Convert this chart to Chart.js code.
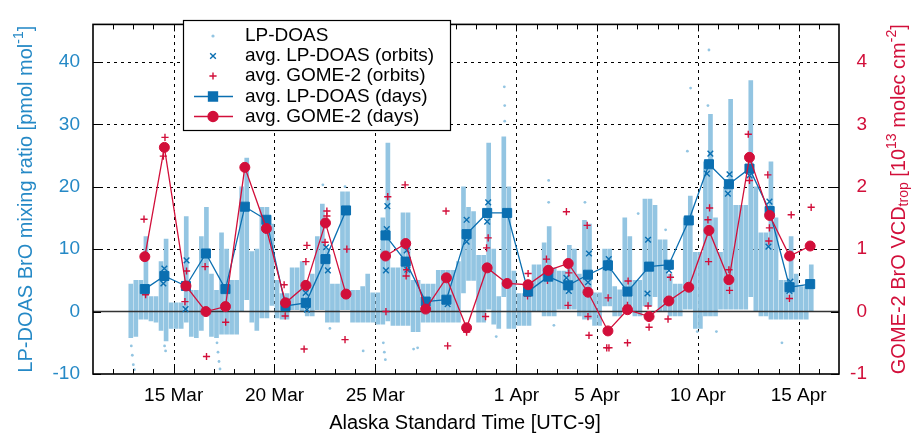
<!DOCTYPE html>
<html>
<head>
<meta charset="utf-8">
<script src="https://cdn.jsdelivr.net/npm/chart.js@4.4.1/dist/chart.umd.min.js"></script>
<style>
  html, body { margin: 0; padding: 0; background: #fff; }
  canvas { display: block; }
</style>
</head>
<body>
<canvas id="chart" width="912" height="435"></canvas>
<script>
const FONT = "'Liberation Sans', Arial, sans-serif";
const BLUE_TEXT = '#2589c6';
const BLUE = '#0b6fb1';
const CLOUD = '#93c5e2';
const RED = '#d20f3a';

// day numbers counted from 0 Mar, so 1 Apr = 32
const majorDays = [15, 20, 25, 32, 36, 41, 46];
const leftTicks = [-10, 0, 10, 20, 30, 40];
const rightTicks = [-1, 0, 1, 2, 3, 4];

// daily averages (null = no data that day)
const dayX = [13.57, 14.54, 15.61, 16.6, 17.57, 18.53, 19.6, 20.55, 21.56, 22.53, 23.55, 24.55,
    25.51, 26.51, 27.5, 28.53, 29.53, 30.55, 31.54, 32.58, 33.58, 34.57, 35.55, 36.54, 37.51,
    38.58, 39.56, 40.55, 41.55, 42.54, 43.56, 44.56, 45.55, 46.57];
const lpDays = [3.6, 5.7, 4.1, 9.3, 3.6, 16.8, 14.7, 0.9, 1.4, 8.4, 16.2, null,
    12.2, 8.0, 1.6, 1.9, 12.4, 15.8, 15.8, 3.2, 5.6, 4.2, 5.9, 7.4, 3.2,
    7.2, 7.5, 14.6, 23.6, 20.4, 22.9, 16.1, 3.9, 4.4];
const gomeDays = [0.88, 2.63, 0.41, 0.0, 0.08, 2.31, 1.33, 0.14, 0.42, 1.42, 0.28, null,
    0.89, 1.09, 0.04, 0.54, -0.26, 0.70, 0.45, 0.43, 0.66, 0.77, 0.31, -0.31, 0.03,
    -0.08, 0.17, 0.39, 1.30, 0.51, 2.47, 1.54, 0.89, 1.05];

// orbit averages
const lpOrbitX = [14.54, 14.49, 15.64, 15.59, 21.55, 21.61, 22.56, 22.65, 25.6, 25.57, 25.53,
    26.56, 26.59, 28.59, 29.53, 29.53, 30.6, 30.55, 34.48, 34.6, 35.6, 35.55, 36.58, 36.55,
    38.53, 38.5, 39.57, 41.62, 41.45, 42.57, 42.49, 43.56, 44.55, 44.5, 45.59, 45.54];
const lpOrbitV = [6.9, 4.5, 8.2, 0.4, 3.0, 0.3, 10.3, 6.6, 16.9, 13.2, 6.6,
    9.8, 6.7, 1.2, 14.7, 11.2, 17.5, 14.4, 5.4, 3.3, 9.3, 4.7, 8.4, 7.0,
    11.5, 2.9, 6.6, 25.3, 22.1, 22.0, 18.9, 21.8, 17.6, 10.4, 4.8, 3.3];

const gomeOrbitX = [13.53, 13.61, 14.57, 14.49, 15.64, 15.56, 16.56, 16.63, 17.58,
    20.48, 20.53, 21.61, 21.56, 21.47, 22.6, 22.6, 22.51, 23.59, 23.5, 25.62, 25.53,
    26.48, 26.56, 26.53, 28.51, 28.59, 29.53, 30.6, 30.52, 30.47, 32.58, 32.55, 33.49, 33.54,
    34.48, 34.6, 34.56, 35.51, 35.55, 35.6, 36.55, 36.48, 36.59, 37.54, 37.51, 37.51,
    38.53, 38.58, 39.64, 39.52, 41.58, 41.5, 41.53, 42.54, 42.57, 43.5, 43.56,
    44.47, 44.55, 44.52, 45.63, 45.54, 46.62, 46.57];
const gomeOrbitV = [1.48, 0.27, 2.79, 2.49, 0.65, 0.16, 0.72, -0.72, -0.17,
    0.43, -0.07, 1.06, 0.80, -0.60, 1.61, 1.53, 1.11, 1.0, -0.45, 1.84, 0.0,
    2.03, 0.67, 0.57, 1.61, -0.55, -0.33, 1.18, 1.02, -0.08, 0.61, 0.25, 0.84, 0.50,
    1.60, 0.62, 0.10, 1.38, -0.08, -0.38, 0.22, -0.58, -0.58, 0.49, 0.10, -0.50,
    0.09, -0.25, 0.55, -0.12, 1.66, 1.47, 0.80, 0.67, 0.34, 2.84, 2.10,
    2.19, 1.34, 1.13, 1.55, 0.21, 1.67, 0.43];

// LP-DOAS measurements: extent of the dense cloud in quarter-day bins from 12.75
const cloudStart = 12.75;
const cloudStep = 0.25;
const cloudLo = [
    -4.2,                        // 12
    -4, -1.2, -1.2, -1.5,        // 13
    -1.7, -3, -4.7, -2.7,        // 14
    -2.7, -2.7, -1.7, -4,        // 15
    -4.2, -3, 0.3, -4,           // 16
    -4.2, -3.6, -3.6, -3.6,      // 17
    -3.6, 0, 1.9, -1.7,          // 18
    -3, -1, -1, 1,               // 19
    -1, -1.2, -1.2, 0.3,         // 20
    0.3, 0, -0.7, -0.7,          // 21
    0.3, 0.3, -1.7, -1.7,        // 22
    -1.7, 0.3, 0.3, -1.7,        // 23
    -1.7, -1.7, -1.7, -1.7,      // 24
    -2, -2, -1.5, -2.2,          // 25
    -2.2, -2.2, -2.2, -3.2,      // 26
    -3.2, -1.7, -1.7, -1.7,      // 27
    -1.7, -1.7, -1.7, -1.7,      // 28
    -1.7, 3, 5, 5,               // 29
    -1.7, -1.7, 0.4, -2,         // 30
    -2.7, 2.4, -2.7, -2.7,       // 31
    -2.2, -2.2, -2.2, 0,         // 1 Apr
    0, -0.7, -0.7, -0.7,         // 2 Apr
    0.4, 0.4, 0.4, 0.4,          // 3 Apr
    -0.7, -1.2, -1.2, -2.2,      // 4 Apr
    -2.2, 0.9, 0.9, -0.7,        // 5 Apr
    -0.7, 0.4, 0.4, -0.7,        // 6 Apr
    -0.7, 0.9, 0.9, 2.4,         // 7 Apr
    0, 0, -0.7, -0.7,            // 8 Apr
    -0.7, 0.4, 0.4, -2.7,        // 9 Apr
    -2.7, -0.7, -0.7, -0.7,      // 10 Apr
    0.4, 0.4, 0.4, 0.4,          // 11 Apr
    0.4, 0.4, 2.4, 0,            // 12 Apr
    -0.7, -0.7, -1.2, -1.2,      // 13 Apr
    -1.2, -1.2, -1.2, -1.2,      // 14 Apr
    -1.2, -1.2, 0                // 15 Apr
];
const cloudHi = [
    4.4,
    5, 5, 12, 2.4,
    2.4, 8, 11.6, 1.4,
    1.4, 1.4, 15.2, 3.4,
    3.4, 12, 16.7, 6,
    3.4, 12.6, 10, 5,
    5, 20, 24.6, 9.6,
    10, 16.7, 16.7, 14,
    5, 2.9, 2.9, 7,
    7, 8, 4.4, 6,
    12, 17.2, 10, 4.4,
    4.4, 19.2, 19.2, 3.4,
    3.4, 4, 6, 3,
    3, 15, 27, 7,
    7, 15.8, 15.8, 5,
    5, 4.4, 4.4, 4.4,
    6.6, 6.6, 6.6, 6.6,
    8, 20, 16.7, 16,
    9, 9, 27, 10,
    2.4, 28, 20, 6.5,
    2.9, 2.9, 2.9, 7.5,
    7.5, 11, 13.6, 7,
    6.5, 6.5, 10.6, 10,
    6, 14.6, 14, 3,
    3, 10, 10, 4,
    3.5, 15, 12, 5,
    5, 18, 18, 17,
    11.5, 11.5, 6, 4.4,
    4.4, 15, 18.5, 9.5,
    9.5, 24, 31.6, 15,
    9.5, 20, 34, 17,
    17, 17, 37, 20,
    12.6, 12.6, 24, 15,
    5, 5, 12, 6,
    4, 4, 7.5
];
// sparse LP-DOAS points outside the dense cloud
const cloudDotX = [12.9, 12.95, 13.0, 13.05, 14.55, 14.6, 17.15, 17.2, 17.25, 17.3, 22.4, 22.75,
    23.5, 24.4, 25.4, 25.45, 25.5, 26.9, 27.1, 31.0, 31.4, 31.42, 31.42, 33.6, 33.6, 33.86,
    35.4, 38.04, 39.4, 40.48, 40.64, 40.97, 41.55, 41.5, 41.92, 45.17];
const cloudDotV = [-5.5, -7, -8.5, -9.3, -5.5, -6.3, -5, -6.5, -8, -9.2, 20.3, -2.7,
    20, -6.3, -5, -6.5, -7.7, -6, -5.8, -4, 36, 33, 30.5, 21, 17.5, -2.2,
    17.5, 15.7, 13.1, 25.7, 35.8, -3.2, 41.9, 33, -3.2, -5];

const legendLabels = ['LP-DOAS', 'avg. LP-DOAS (orbits)', 'avg. GOME-2 (orbits)',
    'avg. LP-DOAS (days)', 'avg. GOME-2 (days)'];

function dayLabel(d) {
    return d <= 31 ? d + ' Mar' : (d - 31) + ' Apr';
}

function drawRich(ctx, parts, cx, cy, rot, color) {
    ctx.save();
    ctx.translate(cx, cy);
    ctx.rotate(rot);
    let total = 0;
    parts.forEach(p => {
        ctx.font = (p.s ? 14 : 20) + 'px ' + FONT;
        p.w = ctx.measureText(p.t).width;
        total += p.w;
    });
    let x = -total / 2;
    ctx.fillStyle = color;
    ctx.textAlign = 'left';
    ctx.textBaseline = 'middle';
    parts.forEach(p => {
        ctx.font = (p.s ? 14 : 20) + 'px ' + FONT;
        const dy = p.s === 'sup' ? -7 : (p.s === 'sub' ? 5 : 0);
        ctx.fillText(p.t, x, dy);
        x += p.w;
    });
    ctx.restore();
}

const framePlugin = {
    id: 'frame',
    beforeDatasetsDraw(chart) {
        const { ctx, chartArea: a, scales } = chart;
        ctx.save();
        ctx.strokeStyle = '#000';
        ctx.lineWidth = 1;
        ctx.setLineDash([3, 4]);
        majorDays.forEach(d => {
            const x = Math.round(scales.x.getPixelForValue(d)) + 0.5;
            ctx.beginPath(); ctx.moveTo(x, a.bottom); ctx.lineTo(x, a.top); ctx.stroke();
        });
        leftTicks.forEach(v => {
            if (v === 0 || v === -10) return;
            const y = Math.round(scales.y.getPixelForValue(v)) + 0.5;
            ctx.beginPath(); ctx.moveTo(a.left, y); ctx.lineTo(a.right, y); ctx.stroke();
        });
        ctx.restore();
    },
    afterDatasetDraw(chart, args) {
        if (args.meta.type !== 'bar') return;
        const { ctx, chartArea: a, scales } = chart;
        const y = scales.y.getPixelForValue(0);
        ctx.save();
        ctx.strokeStyle = '#333';
        ctx.lineWidth = 1.6;
        ctx.beginPath(); ctx.moveTo(a.left, y); ctx.lineTo(a.right, y); ctx.stroke();
        ctx.restore();
    },
    afterDraw(chart) {
        const { ctx, chartArea: a, scales } = chart;
        ctx.save();
        ctx.strokeStyle = '#000';
        ctx.lineWidth = 1;
        // day ticks inside the frame, bottom and top
        for (let d = 12; d <= 47; d++) {
            const len = majorDays.includes(d) ? 7 : 5;
            const x = Math.round(scales.x.getPixelForValue(d)) + 0.5;
            ctx.beginPath();
            ctx.moveTo(x, a.bottom); ctx.lineTo(x, a.bottom - len);
            ctx.moveTo(x, a.top); ctx.lineTo(x, a.top + len);
            ctx.stroke();
        }
        leftTicks.forEach(v => {
            const y = Math.round(scales.y.getPixelForValue(v)) + 0.5;
            ctx.beginPath();
            ctx.moveTo(a.left, y); ctx.lineTo(a.left + 8, y);
            ctx.moveTo(a.right, y); ctx.lineTo(a.right - 8, y);
            ctx.stroke();
        });
        ctx.lineWidth = 1.6;
        ctx.strokeRect(a.left, a.top, a.right - a.left, a.bottom - a.top);

        // legend
        const L = 183, T = 20, W = 267, H = 110;
        ctx.fillStyle = '#fff';
        ctx.fillRect(L, T, W, H);
        ctx.lineWidth = 1.2;
        ctx.strokeStyle = '#000';
        ctx.strokeRect(L + 0.5, T + 0.5, W, H);
        const rowY = [36, 56, 76, 96.5, 116.5];
        const sx = 213;
        const H2 = Chart.helpers;
        // LP-DOAS dot
        ctx.fillStyle = CLOUD; ctx.strokeStyle = CLOUD;
        H2.drawPoint(ctx, { pointStyle: 'circle', radius: 1.6, borderWidth: 0 }, sx, rowY[0]);
        // orbit markers
        ctx.strokeStyle = BLUE; ctx.lineWidth = 1.4;
        H2.drawPoint(ctx, { pointStyle: 'crossRot', radius: 4, borderWidth: 1.4 }, sx, rowY[1]);
        ctx.strokeStyle = RED;
        H2.drawPoint(ctx, { pointStyle: 'cross', radius: 3.6, borderWidth: 1.4 }, sx, rowY[2]);
        // day lines
        [[BLUE, 'rect', 6.4, rowY[3]], [RED, 'circle', 5, rowY[4]]].forEach(([c, s, r, y]) => {
            ctx.strokeStyle = c; ctx.fillStyle = c; ctx.lineWidth = 1.3;
            ctx.beginPath(); ctx.moveTo(194, y); ctx.lineTo(233, y); ctx.stroke();
            H2.drawPoint(ctx, { pointStyle: s, radius: r, borderWidth: 1 }, sx, y);
        });
        ctx.fillStyle = '#000';
        ctx.font = '19px ' + FONT;
        ctx.textAlign = 'left';
        ctx.textBaseline = 'middle';
        legendLabels.forEach((t, i) => ctx.fillText(t, 245, rowY[i]));
        ctx.restore();

        // axis titles
        drawRich(ctx, [{ t: 'Alaska Standard Time [UTC-9]' }], 465, 423, 0, '#000');
        drawRich(ctx, [{ t: 'LP-DOAS BrO mixing ratio [pmol mol' }, { t: '-1', s: 'sup' }, { t: ']' }],
            26, (a.top + a.bottom) / 2, -Math.PI / 2, BLUE_TEXT);
        drawRich(ctx, [{ t: 'GOME-2 BrO VCD' }, { t: 'trop', s: 'sub' }, { t: ' [10' }, { t: '13', s: 'sup' },
            { t: ' molec cm' }, { t: '-2', s: 'sup' }, { t: ']' }],
            899, (a.top + a.bottom) / 2, -Math.PI / 2, RED);
    }
};

Chart.defaults.font.family = FONT;
Chart.defaults.font.size = 19;

const cloudBars = cloudLo.map((lo, i) => ({ x: cloudStart + (i + 0.5) * cloudStep, y: [lo, cloudHi[i]] }));

new Chart(document.getElementById('chart'), {
    type: 'scatter',
    data: {
        datasets: [
            {
                type: 'line',
                label: legendLabels[4],
                data: dayX.map((x, i) => ({ x, y: gomeDays[i] })),
                yAxisID: 'y2',
                borderColor: RED,
                backgroundColor: RED,
                borderWidth: 1.3,
                pointStyle: 'circle',
                pointRadius: 5,
                pointBorderWidth: 1,
                spanGaps: false,
                order: 0
            },
            {
                type: 'line',
                label: legendLabels[3],
                data: dayX.map((x, i) => ({ x, y: lpDays[i] })),
                yAxisID: 'y',
                borderColor: BLUE,
                backgroundColor: BLUE,
                borderWidth: 1.3,
                pointStyle: 'rect',
                pointRadius: 6.4,
                pointBorderWidth: 1,
                spanGaps: false,
                order: 1
            },
            {
                label: legendLabels[2],
                data: gomeOrbitX.map((x, i) => ({ x, y: gomeOrbitV[i] })),
                yAxisID: 'y2',
                borderColor: RED,
                pointStyle: 'cross',
                pointRadius: 3.6,
                pointBorderWidth: 1.4,
                order: 2
            },
            {
                label: legendLabels[1],
                data: lpOrbitX.map((x, i) => ({ x, y: lpOrbitV[i] })),
                yAxisID: 'y',
                borderColor: BLUE,
                pointStyle: 'crossRot',
                pointRadius: 4,
                pointBorderWidth: 1.4,
                order: 3
            },
            {
                label: 'LP-DOAS sparse',
                data: cloudDotX.map((x, i) => ({ x, y: cloudDotV[i] })),
                yAxisID: 'y',
                backgroundColor: CLOUD,
                borderColor: CLOUD,
                pointRadius: 1.4,
                pointBorderWidth: 0,
                order: 4
            },
            {
                type: 'bar',
                label: legendLabels[0],
                data: cloudBars,
                yAxisID: 'y',
                backgroundColor: CLOUD,
                borderWidth: 0,
                barThickness: 4,
                grouped: false,
                order: 5
            }
        ]
    },
    options: {
        responsive: false,
        animation: false,
        devicePixelRatio: 1,
        layout: { padding: { top: 9, right: 45, left: 0, bottom: 0 } },
        plugins: { legend: { display: false }, tooltip: { enabled: false } },
        scales: {
            x: {
                type: 'linear',
                min: 11,
                max: 48,
                offset: false,
                grid: { display: false, drawTicks: false },
                border: { display: false },
                afterBuildTicks: s => { s.ticks = majorDays.map(v => ({ value: v })); },
                afterFit: s => { s.height = 61; },
                ticks: { color: '#000', padding: 10, maxRotation: 0, autoSkip: false, callback: v => dayLabel(v) }
            },
            y: {
                type: 'linear',
                position: 'left',
                min: -10,
                max: 46,
                grid: { display: false, drawTicks: false },
                border: { display: false },
                afterBuildTicks: s => { s.ticks = leftTicks.map(v => ({ value: v })); },
                afterFit: s => { s.width = 93; },
                ticks: { color: BLUE_TEXT, padding: 13 }
            },
            y2: {
                type: 'linear',
                position: 'right',
                min: -1,
                max: 4.6,
                grid: { display: false, drawTicks: false },
                border: { display: false },
                afterBuildTicks: s => { s.ticks = rightTicks.map(v => ({ value: v })); },
                afterFit: s => { s.width = 28; },
                ticks: { color: RED, padding: 0, crossAlign: 'far' }
            }
        }
    },
    plugins: [framePlugin]
});
</script>
</body>
</html>
